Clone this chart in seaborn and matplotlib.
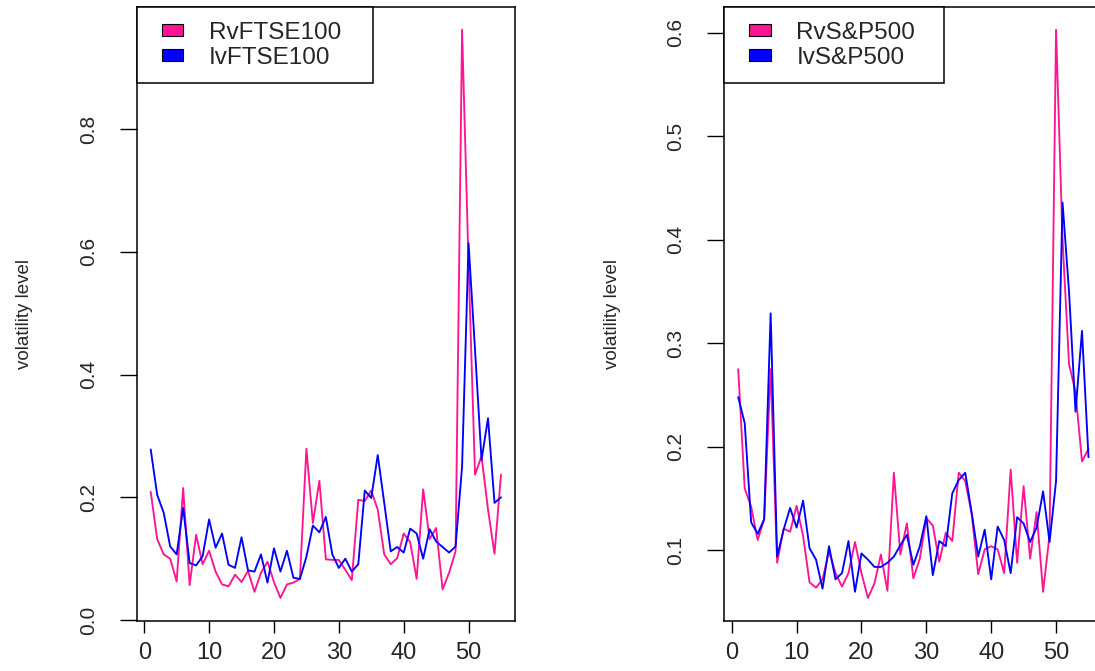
import matplotlib
matplotlib.use("Agg")
import matplotlib.pyplot as plt
from matplotlib.patches import Patch, Rectangle
from matplotlib.legend_handler import HandlerPatch
import seaborn as sns
import pandas as pd

# ---- data ----
t = list(range(1, 56))

rv_ftse = [0.209, 0.132, 0.107, 0.100, 0.063, 0.215, 0.057, 0.139, 0.091, 0.113,
           0.079, 0.058, 0.055, 0.074, 0.062, 0.080, 0.046, 0.077, 0.095, 0.062,
           0.036, 0.058, 0.061, 0.067, 0.279, 0.158, 0.227, 0.099, 0.098, 0.098,
           0.082, 0.065, 0.196, 0.194, 0.211, 0.180, 0.107, 0.091, 0.101, 0.141,
           0.127, 0.067, 0.213, 0.132, 0.150, 0.050, 0.077, 0.112, 0.962, 0.580,
           0.237, 0.267, 0.180, 0.108, 0.237]

iv_ftse = [0.278, 0.204, 0.175, 0.120, 0.107, 0.183, 0.093, 0.089, 0.104, 0.164,
           0.118, 0.141, 0.090, 0.085, 0.135, 0.081, 0.079, 0.107, 0.061, 0.117,
           0.079, 0.113, 0.069, 0.067, 0.103, 0.154, 0.143, 0.168, 0.107, 0.085,
           0.100, 0.079, 0.091, 0.211, 0.199, 0.269, 0.191, 0.112, 0.119, 0.110,
           0.149, 0.141, 0.100, 0.148, 0.128, 0.119, 0.110, 0.120, 0.250, 0.614,
           0.440, 0.261, 0.329, 0.191, 0.200]

rv_sp = [0.275, 0.160, 0.142, 0.110, 0.130, 0.275, 0.088, 0.121, 0.118, 0.143,
         0.114, 0.069, 0.064, 0.072, 0.099, 0.078, 0.065, 0.078, 0.108, 0.078,
         0.054, 0.068, 0.096, 0.061, 0.175, 0.096, 0.126, 0.073, 0.092, 0.131,
         0.124, 0.089, 0.117, 0.109, 0.175, 0.167, 0.135, 0.077, 0.101, 0.104,
         0.101, 0.078, 0.178, 0.088, 0.162, 0.092, 0.137, 0.060, 0.115, 0.603,
         0.400, 0.280, 0.253, 0.186, 0.198]

iv_sp = [0.248, 0.223, 0.127, 0.116, 0.130, 0.329, 0.094, 0.120, 0.141, 0.122,
         0.148, 0.102, 0.091, 0.063, 0.104, 0.072, 0.078, 0.109, 0.060, 0.097,
         0.091, 0.084, 0.084, 0.088, 0.094, 0.105, 0.115, 0.086, 0.104, 0.133,
         0.076, 0.109, 0.104, 0.155, 0.168, 0.175, 0.136, 0.094, 0.120, 0.072,
         0.123, 0.110, 0.078, 0.132, 0.126, 0.108, 0.122, 0.157, 0.108, 0.167,
         0.436, 0.350, 0.234, 0.312, 0.190]

left_names = ["RvFTSE100", "IvFTSE100"]
right_names = ["RvS&P500", "IvS&P500"]
left_yticks = [0.0, 0.2, 0.4, 0.6, 0.8]
left_yticklabels = ["0.0", "0.2", "0.4", "0.6", "0.8"]
right_yticks = [0.1, 0.2, 0.3, 0.4, 0.5, 0.6]
right_yticklabels = ["0.1", "0.2", "0.3", "0.4", "0.5", "0.6"]
xticks = [0, 10, 20, 30, 40, 50]
xticklabels = ["0", "10", "20", "30", "40", "50"]
ylabel = "volatility level"

# ---- style ----
sns.set_style("ticks")
plt.rcParams['font.family'] = ['Liberation Sans', 'DejaVu Sans']

PINK = "#FF1493"
BLUE = "#0000FF"
LEG_FS = 17.5

fig = plt.figure(figsize=(10.95, 6.71), dpi=100)
W, H = 1095.0, 671.0
ax_w = 378.3 / W
ax_b = 1 - 620.7 / H
ax_h = (620.7 - 7.0) / H
axL = fig.add_axes([136.7 / W, ax_b, ax_w, ax_h])
axR = fig.add_axes([724.2 / W, ax_b, ax_w, ax_h])


def key_box(legend, orig_handle, xdescent, ydescent, width, height, fontsize):
    # filled key square, pushed to the right part of the handle area (R style)
    off = 0.43 * fontsize
    rw = width - off
    rh = 0.48 * fontsize
    return Rectangle((-xdescent + off, -ydescent + (height - rh) / 2.0), rw, rh)


def panel(ax, rv, iv, names, yticks, yticklabels, leg_w):
    df = pd.DataFrame({
        "t": t + t,
        "value": rv + iv,
        "series": [names[0]] * len(t) + [names[1]] * len(t),
    })
    sns.lineplot(data=df, x="t", y="value", hue="series",
                 hue_order=names, palette=[PINK, BLUE],
                 estimator=None, legend=False, linewidth=1.35, ax=ax)
    allv = rv + iv
    lo, hi = min(allv), max(allv)
    pad = 0.04 * (hi - lo)
    ax.set_ylim(lo - pad, hi + pad)
    xpad = 0.04 * (max(t) - min(t))
    ax.set_xlim(min(t) - xpad, max(t) + xpad)
    ax.set_xticks(xticks)
    ax.set_xticklabels(xticklabels, fontsize=17)
    ax.set_yticks(yticks)
    ax.set_yticklabels(yticklabels, fontsize=15, rotation=90, va="center")
    ax.tick_params(axis="x", length=8.4, width=1.0, pad=7, color="black")
    ax.tick_params(axis="y", length=12, width=1.0, pad=16, color="black")
    ax.set_xlabel("")
    ax.set_ylabel(ylabel, fontsize=13.5)
    ax.yaxis.set_label_coords(-0.274, 0.5)
    for s in ax.spines.values():
        s.set_visible(True)
        s.set_color("black")
        s.set_linewidth(1.1)
    handles = [Patch(facecolor=PINK, edgecolor="black", linewidth=0.8),
               Patch(facecolor=BLUE, edgecolor="black", linewidth=0.8)]
    leg = ax.legend(handles, names, loc="upper left",
                    bbox_to_anchor=(0, 0, leg_w, 1), mode="expand",
                    borderaxespad=0, fontsize=LEG_FS, frameon=True,
                    fancybox=False, shadow=False, framealpha=1,
                    edgecolor="black", borderpad=0.6, labelspacing=0.12,
                    handlelength=1.32, handleheight=0.7, handletextpad=1.05,
                    handler_map={Patch: HandlerPatch(patch_func=key_box)})
    leg.get_frame().set_linewidth(1.1)


panel(axL, rv_ftse, iv_ftse, left_names, left_yticks, left_yticklabels, 236.0 / 378.3)
panel(axR, rv_sp, iv_sp, right_names, right_yticks, right_yticklabels, 0.58)

fig.savefig("out.png", dpi=100)
